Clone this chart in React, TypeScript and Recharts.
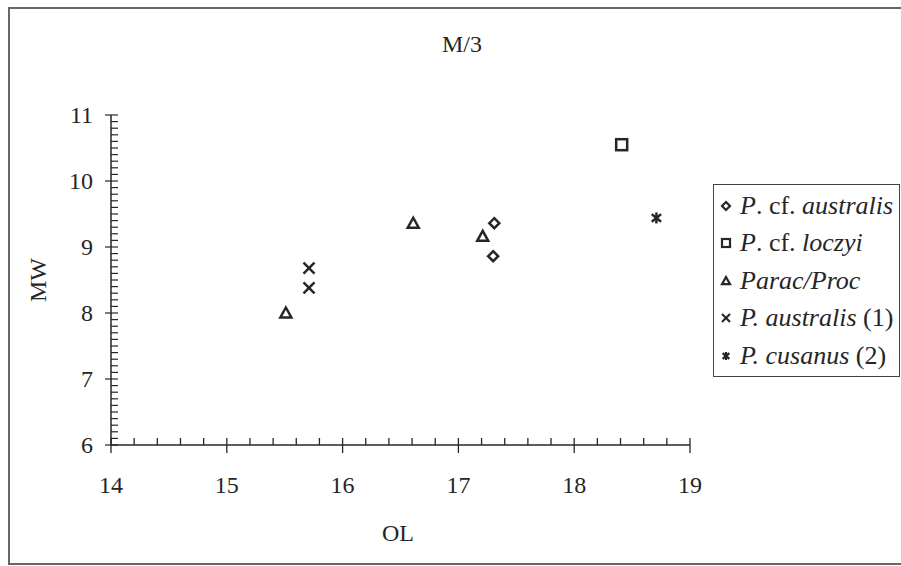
import React from 'react';
import { ScatterChart, Scatter, XAxis, YAxis } from 'recharts';

// ---- data ----
const xMajorTicks = [14, 15, 16, 17, 18, 19];
const yMajorTicks = [6, 7, 8, 9, 10, 11];
const xMinorStep = 0.2;
const yMinorStep = 0.1;

const cfAustralisX = [17.31, 17.3];
const cfAustralisY = [9.36, 8.86];
const cfLoczyiX = [18.41];
const cfLoczyiY = [10.55];
const paracX = [15.51, 16.61, 17.21];
const paracY = [8.0, 9.36, 9.16];
const australis1X = [15.71, 15.71];
const australis1Y = [8.68, 8.38];
const cusanusX = [18.71];
const cusanusY = [9.44];

const seriesNames = ['P. cf. australis', 'P. cf. loczyi', 'Parac/Proc', 'P. australis (1)', 'P. cusanus (2)'];
const seriesKinds = ['diamond', 'square', 'triangle', 'cross', 'asterisk'];
// legend label parts: [text, italic]
const legendParts: [string, boolean][][] = [
  [['P', true], ['. cf. ', false], ['australis', true]],
  [['P', true], ['. cf. ', false], ['loczyi', true]],
  [['Parac/Proc', true]],
  [['P. australis', true], [' (1)', false]],
  [['P. cusanus', true], [' (2)', false]],
];

const toPoints = (xs: number[], ys: number[]) => xs.map((x, i) => ({ x, y: ys[i] }));
const seriesData = [
  toPoints(cfAustralisX, cfAustralisY),
  toPoints(cfLoczyiX, cfLoczyiY),
  toPoints(paracX, paracY),
  toPoints(australis1X, australis1Y),
  toPoints(cusanusX, cusanusY),
];

const buildTicks = (major: number[], step: number) => {
  const out: number[] = [];
  const lo = major[0];
  const hi = major[major.length - 1];
  const n = Math.round((hi - lo) / step);
  for (let i = 0; i <= n; i++) out.push(Math.round((lo + i * step) * 1000) / 1000);
  return out;
};
const xAllTicks = buildTicks(xMajorTicks, xMinorStep);
const yAllTicks = buildTicks(yMajorTicks, yMinorStep);
const isMajor = (v: number, majors: number[]) => majors.some((m) => Math.abs(m - v) < 1e-6);

const INK = '#262626';
const FONT = "'Liberation Serif', 'Times New Roman', serif";

function Marker({ kind, cx, cy, s, sw }: { kind: string; cx: number; cy: number; s: number; sw: number }) {
  const h = s / 2;
  const common = { stroke: INK, strokeWidth: sw, fill: 'none' };
  switch (kind) {
    case 'diamond':
      return <polygon points={`${cx},${cy - h} ${cx + h},${cy} ${cx},${cy + h} ${cx - h},${cy}`} {...common} />;
    case 'square':
      return <rect x={cx - h} y={cy - h} width={s} height={s} {...common} />;
    case 'triangle':
      return <polygon points={`${cx},${cy - h} ${cx + h},${cy + h * 0.8} ${cx - h},${cy + h * 0.8}`} {...common} />;
    case 'cross':
      return (
        <g {...common}>
          <line x1={cx - h} y1={cy - h} x2={cx + h} y2={cy + h} />
          <line x1={cx - h} y1={cy + h} x2={cx + h} y2={cy - h} />
        </g>
      );
    case 'asterisk':
      return (
        <g {...common}>
          <line x1={cx - h * 0.85} y1={cy - h * 0.7} x2={cx + h * 0.85} y2={cy + h * 0.7} />
          <line x1={cx - h * 0.85} y1={cy + h * 0.7} x2={cx + h * 0.85} y2={cy - h * 0.7} />
          <line x1={cx} y1={cy - h} x2={cx} y2={cy + h} />
        </g>
      );
    default:
      return null;
  }
}

const makeShape = (kind: string) => (props: any) => {
  const { cx, cy } = props;
  if (cx == null || cy == null) return <g />;
  return <Marker kind={kind} cx={cx} cy={cy} s={kind === 'diamond' ? 10 : 11} sw={2.5} />;
};

const XTick = (props: any) => {
  const { x, y, payload } = props;
  const v = payload.value;
  const major = isMajor(v, xMajorTicks);
  return (
    <g>
      <line x1={x} x2={x} y1={y - 7} y2={major ? y + 8 : y} stroke={INK} strokeWidth={1.3} />
      {major && (
        <text x={x} y={y + 40} textAnchor="middle" dominantBaseline="central" style={{ fontFamily: FONT }} fontSize={24} fill={INK}>
          {v}
        </text>
      )}
    </g>
  );
};

const YTick = (props: any) => {
  const { x, y, payload } = props;
  const v = payload.value;
  const major = isMajor(v, yMajorTicks);
  return (
    <g>
      <line x1={major ? x - 6 : x} x2={x + 7} y1={y} y2={y} stroke={INK} strokeWidth={1.2} />
      {major && (
        <text x={x - 18} y={y} textAnchor="end" dominantBaseline="central" style={{ fontFamily: FONT }} fontSize={24} fill={INK}>
          {v}
        </text>
      )}
    </g>
  );
};

const LegendBox = () => (
  <div
    style={{
      position: 'absolute',
      left: 713,
      top: 184,
      border: '1.5px solid #444',
      width: 187,
      height: 193,
      boxSizing: 'border-box',
      paddingTop: 2,
      fontFamily: FONT,
      fontSize: 26,
      color: INK,
      background: '#fff',
    }}
  >
    {seriesNames.map((name, idx) => (
      <div key={name} style={{ height: 37.5, display: 'flex', alignItems: 'center', whiteSpace: 'nowrap' }}>
        <svg width={26} height={20} style={{ flex: 'none' }}>
          <Marker kind={seriesKinds[idx]} cx={12} cy={10} s={8} sw={2.2} />
        </svg>
        <span>
          {legendParts[idx].map(([t, it], j) => (
            <span key={j} style={{ fontStyle: it ? 'italic' : 'normal' }}>
              {t}
            </span>
          ))}
        </span>
      </div>
    ))}
  </div>
);

export default function App() {
  return (
    <div style={{ position: 'absolute', left: 0, top: 0, width: 901, height: 566, background: '#fff', fontFamily: FONT }}>
      <div
        style={{
          position: 'absolute',
          left: 8,
          top: 7,
          width: 893,
          height: 558,
          boxSizing: 'border-box',
          borderLeft: '2px solid #666',
          borderTop: '2px solid #666',
          borderBottom: '2px solid #666',
        }}
      />
      <div
        style={{
          position: 'absolute',
          left: 462,
          top: 44,
          transform: 'translate(-50%, -50%)',
          fontFamily: FONT,
          fontSize: 24,
          color: INK,
          whiteSpace: 'nowrap',
        }}
      >
        M/3
      </div>
      <ScatterChart width={901} height={566} margin={{ top: 115, right: 211, bottom: 61, left: 51 }}>
        <XAxis
          type="number"
          dataKey="x"
          domain={[14, 19]}
          ticks={xAllTicks}
          interval={0}
          tick={<XTick />}
          tickLine={false}
          tickSize={0}
          tickMargin={0}
          axisLine={{ stroke: INK, strokeWidth: 1.5 }}
          height={60}
          allowDataOverflow
          label={{
            content: () => (
              <text x={398} y={533} textAnchor="middle" dominantBaseline="central" style={{ fontFamily: FONT }} fontSize={24} fill={INK}>
                OL
              </text>
            ),
          }}
        />
        <YAxis
          type="number"
          dataKey="y"
          domain={[6, 11]}
          ticks={yAllTicks}
          interval={0}
          tick={<YTick />}
          tickLine={false}
          tickSize={0}
          tickMargin={0}
          axisLine={{ stroke: INK, strokeWidth: 1.5 }}
          width={60}
          allowDataOverflow
          label={{
            content: () => (
              <text
                x={38}
                y={280}
                transform="rotate(-90 38 280)"
                textAnchor="middle"
                dominantBaseline="central"
                style={{ fontFamily: FONT }}
                fontSize={24}
                fill={INK}
              >
                MW
              </text>
            ),
          }}
        />
        {seriesData.map((d, i) => (
          <Scatter
            key={seriesNames[i]}
            name={seriesNames[i]}
            data={d}
            fill={INK}
            shape={makeShape(seriesKinds[i])}
            isAnimationActive={false}
          />
        ))}
      </ScatterChart>
      <LegendBox />
    </div>
  );
}
